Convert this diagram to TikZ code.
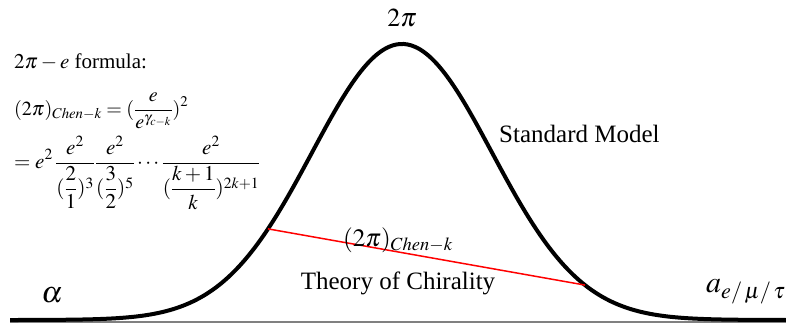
\documentclass[tikz,border=0pt]{standalone}
\usepackage{amsmath}
\usepackage{mathptmx}
\usepackage[no-math]{fontspec}
\setmainfont{Liberation Serif}
\usetikzlibrary{positioning}

\begin{document}
\begin{tikzpicture}[x=1pt,y=-1pt,
  declare function={bell(\x)=320-276*exp(-0.5*((\x-402)/90)^2);},
  lbl/.style={inner sep=0pt, font=\fontsize{25}{29}\selectfont},
  frm/.style={inner sep=0pt, anchor=west, font=\fontsize{21}{25}\selectfont}]
\useasboundingbox (0,0) rectangle (786,327);

% Axis
\coordinate (axisL) at (10,322);
\coordinate (axisR) at (786,322);
\draw[gray, line width=1.5pt] (axisL) -- (axisR);

% Bell curve
\draw[line width=4pt, domain=10:786, samples=200, smooth] plot (\x,{bell(\x)});

% Chord
\coordinate (chenL) at (268,{bell(268)});
\coordinate (chenR) at (585,{bell(585)});
\draw[red, line width=1.5pt] (chenL) -- (chenR);

% Labels
\node[lbl, font=\fontsize{26}{30}\selectfont] (peak) at (402,18) {$2\pi$};
\node[lbl, anchor=west] (sm) at (499,134) {Standard Model};
\node[lbl, font=\fontsize{25}{29}\selectfont] (chen) at (398,240) {$(2\pi)_{Chen-k}$};
\node[lbl] (chir) at (398,283) {Theory of Chirality};
\node[lbl, font=\fontsize{30}{34}\selectfont] (alpha) at (52,295) {$\alpha$};
\node[lbl, anchor=west, font=\fontsize{30}{34}\selectfont] (aemt) at (706,292) {$a_{e/\,\mu/\,\tau}$};

% Formula
\node[frm] (title) at (14,62) {$2\pi-e$ formula:};
\node[frm, font=\fontsize{20}{24}\selectfont] (chenk) at (14,111) {$\displaystyle(2\pi)_{Chen-k}=(\frac{e}{e^{\gamma_{c-k}}})^2$};
\node[frm] (prod) at (14,173) {$\displaystyle=e^2\,\frac{e^2}{(\dfrac{2}{1})^3}\frac{e^2}{(\dfrac{3}{2})^5}\cdots\frac{e^2}{(\dfrac{k+1}{k})^{2k+1}}$};

\end{tikzpicture}
\end{document}
